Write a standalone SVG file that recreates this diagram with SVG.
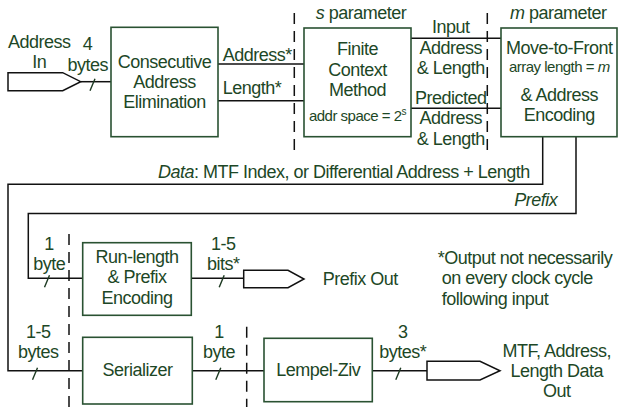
<svg xmlns="http://www.w3.org/2000/svg" width="618" height="407" viewBox="0 0 618 407">
  <style>
    text { font-family: "Liberation Sans", Arial, sans-serif; font-size: 18px; fill: #1d4726; letter-spacing: -0.5px; }
    .c { text-anchor: middle; }
    .sm { font-size: 15px; letter-spacing: -0.5px; }
    .it { font-style: italic; }
    .box { fill: #ffffff; stroke: #2a5232; stroke-width: 1.6; }
    .wire { fill: none; stroke: #111111; stroke-width: 1.5; }
    .port { fill: #ffffff; stroke: #111111; stroke-width: 1.5; }
    .dash { stroke: #111111; stroke-width: 1.5; stroke-dasharray: 11 7; }
    .tick { stroke: #1d3a22; stroke-width: 1.4; }
  </style>

  <!-- connectors -->
  <g id="connectors">
    <line class="wire" x1="80.7" y1="81.7" x2="111" y2="81.7"/>
    <line class="wire" x1="218" y1="64" x2="304" y2="64"/>
    <line class="wire" x1="218" y1="100.7" x2="304" y2="100.7"/>
    <line class="wire" x1="411" y1="38.3" x2="501" y2="38.3"/>
    <line class="wire" x1="411" y1="108.3" x2="501" y2="108.3"/>
    <polyline class="wire" points="542.7,136.7 542.7,184.3 8,184.3 8,370.7 82.7,370.7"/>
    <polyline class="wire" points="576,136.7 576,213.5 28.3,213.5 28.3,278.3 82.7,278.3"/>
    <line class="wire" x1="191.3" y1="278.3" x2="243.7" y2="278.3"/>
    <line class="wire" x1="192.3" y1="370.7" x2="264" y2="370.7"/>
    <line class="wire" x1="372.3" y1="370.7" x2="427" y2="370.7"/>
    <!-- bus-width ticks -->
    <line class="tick" x1="95" y1="78.7" x2="90" y2="90.7"/>
    <line class="tick" x1="49.5" y1="275.3" x2="44.5" y2="287.3"/>
    <line class="tick" x1="224.2" y1="275.3" x2="219.2" y2="287.3"/>
    <line class="tick" x1="37.5" y1="367.7" x2="32.5" y2="379.7"/>
    <line class="tick" x1="220.8" y1="367.7" x2="215.8" y2="379.7"/>
    <line class="tick" x1="400.8" y1="367.7" x2="395.8" y2="379.7"/>
  </g>

  <!-- clock-stage boundaries -->
  <g id="stages">
    <line class="dash" x1="294.3" y1="13" x2="294.3" y2="150"/>
    <line class="dash" x1="487.3" y1="13" x2="487.3" y2="150"/>
    <line class="dash" x1="69" y1="234" x2="69" y2="407"/>
    <line class="dash" x1="246.7" y1="326.7" x2="246.7" y2="407"/>
  </g>

  <!-- ports -->
  <g id="address-in">
    <polygon class="port" points="8,72.7 62.7,72.7 80.7,81.7 62.7,90.7 8,90.7"/>
    <text class="c" x="39.3" y="47.7">Address</text>
    <text class="c" x="39.3" y="67.7">In</text>
    <text class="c" x="87.5" y="50">4</text>
    <text class="c" x="87.7" y="71">bytes</text>
  </g>

  <g id="prefix-out">
    <polygon class="port" points="243.7,270.3 288,270.3 304,279 288,287.7 243.7,287.7"/>
    <text x="322.7" y="285">Prefix Out</text>
  </g>

  <g id="data-out">
    <polygon class="port" points="427,361.3 480,361.3 500,370.7 480,380 427,380"/>
    <text class="c" x="556.7" y="356.7">MTF, Address,</text>
    <text class="c" x="556.7" y="376.7">Length Data</text>
    <text class="c" x="556.7" y="396.7">Out</text>
  </g>

  <!-- processing blocks -->
  <g id="cae">
    <rect class="box" x="111" y="27.3" width="107" height="109.4"/>
    <text class="c" x="164.5" y="68.3">Consecutive</text>
    <text class="c" x="164.5" y="88.3">Address</text>
    <text class="c" x="164.5" y="108.3">Elimination</text>
  </g>

  <g id="cae-labels">
    <text x="222.7" y="61">Address*</text>
    <text x="222.7" y="94.3">Length*</text>
  </g>

  <g id="fcm">
    <text class="c" x="361" y="19"><tspan class="it">s</tspan> parameter</text>
    <rect class="box" x="304" y="28" width="107" height="108.7"/>
    <text class="c" x="357.5" y="55">Finite</text>
    <text class="c" x="357.5" y="76">Context</text>
    <text class="c" x="357.5" y="96">Method</text>
    <text class="c sm" x="357.5" y="120.7">addr space = 2<tspan font-size="10" dy="-6">s</tspan></text>
  </g>

  <g id="fcm-labels">
    <text class="c" x="450.7" y="33.3">Input</text>
    <text class="c" x="450.7" y="54.3">Address</text>
    <text class="c" x="450.7" y="74">&amp; Length</text>
    <text class="c" x="450.7" y="104.3">Predicted</text>
    <text class="c" x="450.7" y="124.3">Address</text>
    <text class="c" x="450.7" y="145">&amp; Length</text>
  </g>

  <g id="mtf">
    <text class="c" x="558.3" y="19"><tspan class="it">m</tspan> parameter</text>
    <rect class="box" x="501" y="28" width="116" height="108.7"/>
    <text class="c" x="559.3" y="54.3">Move-to-Front</text>
    <text class="c sm" x="559.3" y="72.3">array length = <tspan class="it">m</tspan></text>
    <text class="c" x="559.3" y="101">&amp; Address</text>
    <text class="c" x="559.3" y="121">Encoding</text>
  </g>

  <g id="bus-labels">
    <text x="158" y="178"><tspan class="it">Data</tspan>: MTF Index, or Differential Address + Length</text>
    <text class="it" x="557.3" y="206" text-anchor="end">Prefix</text>
  </g>

  <g id="rle">
    <text class="c" x="49" y="250">1</text>
    <text class="c" x="49.3" y="270">byte</text>
    <rect class="box" x="82.7" y="242.7" width="108.6" height="72.6"/>
    <text class="c" x="137" y="263.3">Run-length</text>
    <text class="c" x="137" y="283.3">&amp; Prefix</text>
    <text class="c" x="137" y="304">Encoding</text>
    <text class="c" x="223.3" y="250">1-5</text>
    <text class="c" x="223.3" y="270">bits*</text>
  </g>

  <g id="note">
    <text x="437.7" y="264.3">*Output not necessarily</text>
    <text x="441.7" y="284.3">on every clock cycle</text>
    <text x="441.7" y="305">following input</text>
  </g>

  <g id="serializer">
    <text class="c" x="38.3" y="338.3">1-5</text>
    <text class="c" x="38.3" y="358.3">bytes</text>
    <rect class="box" x="82.7" y="337.3" width="109.6" height="66.7"/>
    <text class="c" x="137.5" y="376">Serializer</text>
    <text class="c" x="219" y="338.3">1</text>
    <text class="c" x="219" y="358.3">byte</text>
  </g>

  <g id="lempel-ziv">
    <rect class="box" x="264" y="338.3" width="108.3" height="63.4"/>
    <text class="c" x="318.2" y="376">Lempel-Ziv</text>
    <text class="c" x="402.7" y="338.3">3</text>
    <text class="c" x="402.7" y="358.3">bytes*</text>
  </g>
</svg>
